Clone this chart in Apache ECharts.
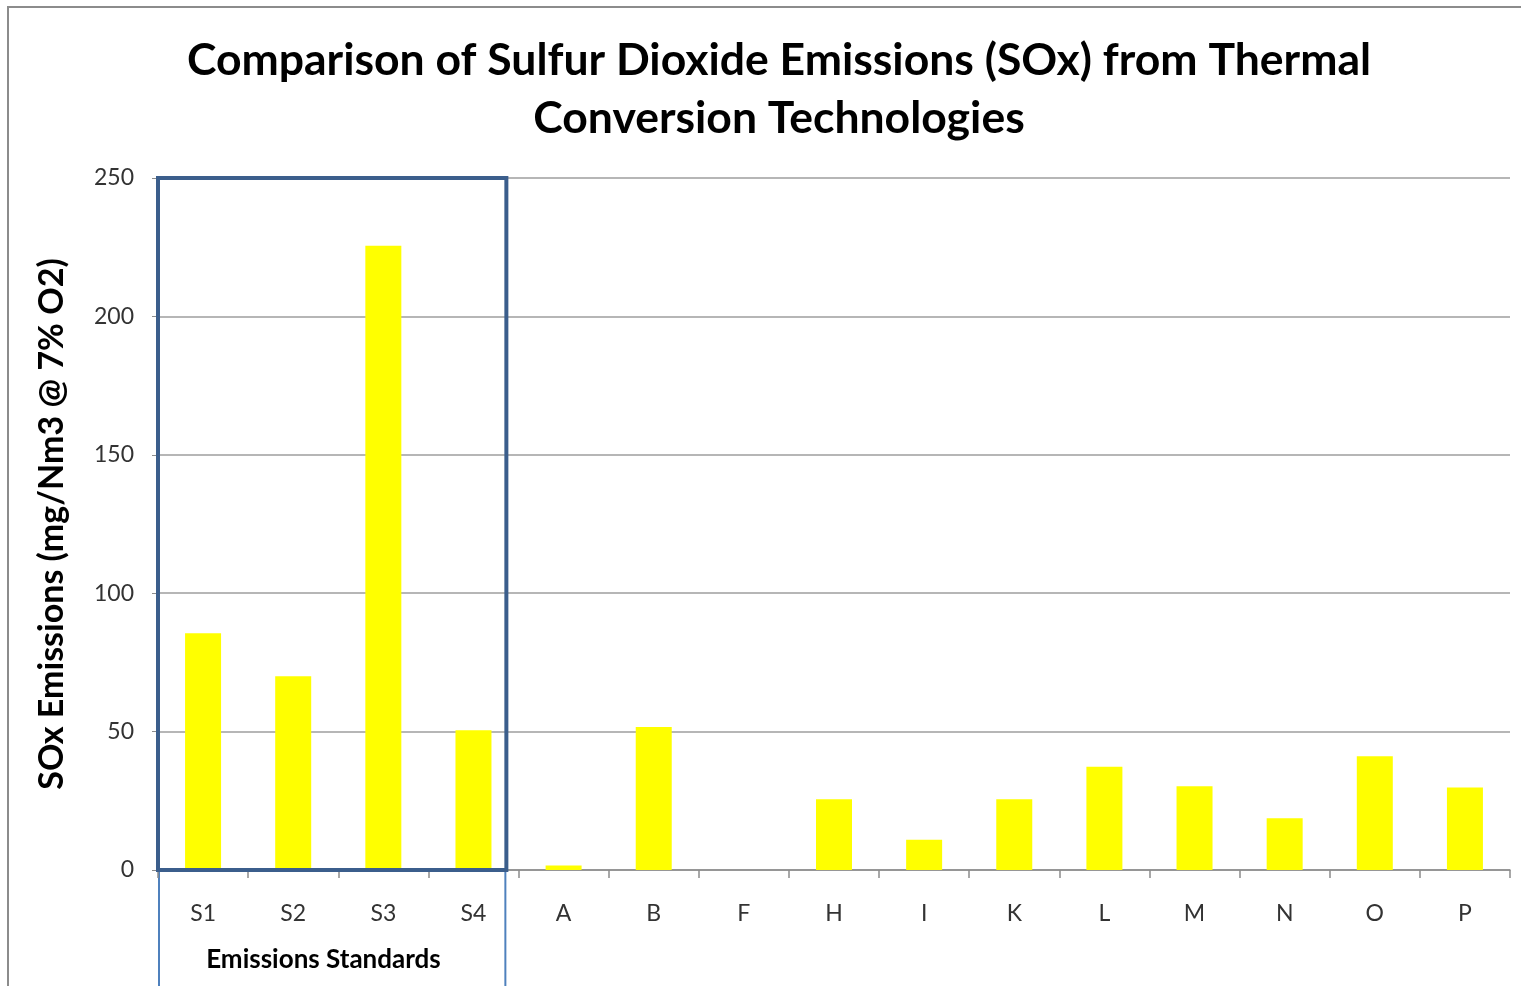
<!DOCTYPE html>
<html>
<head>
<meta charset="utf-8">
<title>SOx Emissions</title>
<script src="https://cdn.jsdelivr.net/npm/echarts@6/dist/echarts.min.js"></script>
<style>
html,body{margin:0;padding:0;background:#fff;}
#chart{width:1521px;height:986px;}
</style>
</head>
<body>
<div id="chart"></div>
<script>
// data
const categories=['S1','S2','S3','S4','A','B','F','H','I','K','L','M','N','O','P']
const soxValues=[85.5,70,225.5,50.5,1.6,51.7,0,25.6,10.9,25.6,37.3,30.3,18.7,41.1,29.8]
const yTicks=[0,50,100,150,200,250]
const standardsGroup=['S1','S2','S3','S4']
const groupLabel='Emissions Standards'

const chart=echarts.init(document.getElementById('chart'))
const font='Lato'

const option={
    backgroundColor:'#fff',
    animation:false,
    title:{
        text:'Comparison of Sulfur Dioxide Emissions (SOx) from Thermal\nConversion Technologies',
        left:774,
        top:27,
        textAlign:'center',
        textStyle:{
            fontFamily:font,
            fontWeight:'bold',
            fontSize:44.5,
            lineHeight:58,
            color:'#000'
        }
    },
    grid:{
        left:158,
        right:11,
        top:178,
        bottom:116
    },
    xAxis:{
        type:'category',
        data:categories,
        axisLine:{lineStyle:{color:'#8c8c8c',width:1.5}},
        axisTick:{show:true,length:8,lineStyle:{color:'#8c8c8c',width:1.5}},
        axisLabel:{
            margin:32,
            fontFamily:font,
            fontSize:23,
            color:'#333'
        }
    },
    yAxis:{
        type:'value',
        min:0,
        max:250,
        interval:50,
        name:'SOx Emissions (mg/Nm3 @ 7% O2)',
        nameLocation:'middle',
        nameGap:89,
        nameTextStyle:{
            fontFamily:font,
            fontWeight:'bold',
            fontSize:34,
            color:'#000'
        },
        axisLine:{show:true,lineStyle:{color:'#8c8c8c',width:1.5}},
        axisTick:{show:true,length:6,lineStyle:{color:'#8c8c8c'}},
        axisLabel:{
            margin:24,
            fontFamily:font,
            fontSize:23,
            color:'#333',
            formatter:v=>yTicks.includes(v)?String(v):''
        },
        splitLine:{lineStyle:{color:'#9e9e9e',width:1.5}}
    },
    series:[
        {
            type:'bar',
            data:soxValues,
            barWidth:36,
            itemStyle:{color:'#ffff00'}
        }
    ]
}
chart.setOption(option)

// box and label around the emissions standards group
const first=chart.convertToPixel({xAxisIndex:0},standardsGroup[0])
const last=chart.convertToPixel({xAxisIndex:0},standardsGroup[standardsGroup.length-1])
const step=chart.convertToPixel({xAxisIndex:0},categories[1])-chart.convertToPixel({xAxisIndex:0},categories[0])
const x0=first-step/2
const x1=last+step/2-step*0.135
const yTop=chart.convertToPixel({yAxisIndex:0},250)
const yBottom=chart.convertToPixel({yAxisIndex:0},0)

chart.setOption({
    graphic:[
        {
            type:'polyline',
            silent:true,
            shape:{points:[[8,986],[8,7],[1521,7]]},
            style:{stroke:'#8c8c8c',lineWidth:2,fill:null}
        },
        {
            type:'rect',
            silent:true,
            z:100,
            shape:{x:x0,y:yTop,width:x1-x0,height:yBottom-yTop},
            style:{stroke:'#3b5e8c',lineWidth:4,fill:null}
        },
        {
            type:'line',
            silent:true,
            shape:{x1:x0+1,y1:yBottom,x2:x0+1,y2:986},
            style:{stroke:'#4f81bd',lineWidth:2}
        },
        {
            type:'line',
            silent:true,
            shape:{x1:x1-1,y1:yBottom,x2:x1-1,y2:986},
            style:{stroke:'#4f81bd',lineWidth:2}
        },
        {
            type:'text',
            silent:true,
            x:x0+(x1-x0)*0.475,
            y:960,
            style:{
                text:groupLabel,
                align:'center',
                verticalAlign:'middle',
                fontFamily:font,
                fontWeight:'bold',
                fontSize:26,
                fill:'#000'
            }
        }
    ]
})
</script>
</body>
</html>
